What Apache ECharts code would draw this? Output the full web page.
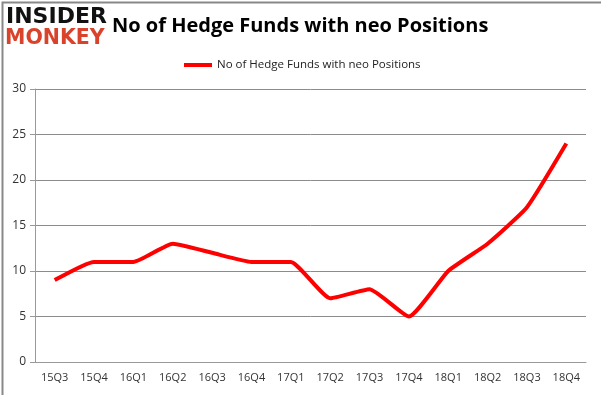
<!DOCTYPE html>
<html><head><meta charset="utf-8">
<script src="https://cdn.jsdelivr.net/npm/echarts@6/dist/echarts.min.js"></script>
<style>html,body{margin:0;padding:0;background:#fff}#c{width:601px;height:395px}</style>
</head><body><div id="c"></div>
<script>
const categories = ['15Q3','15Q4','16Q1','16Q2','16Q3','16Q4','17Q1','17Q2','17Q3','17Q4','18Q1','18Q2','18Q3','18Q4'];
const hedgeFunds = [9,11,11,13,12,11,11,7,8,5,10,13,17,24];
const seriesName = 'No of Hedge Funds with neo Positions';
const titleText = 'No of Hedge Funds with neo Positions';

const chart = echarts.init(document.getElementById('c'), null, {renderer:'canvas'});
chart.setOption({
  animation:false,
  backgroundColor:'#fff',
  title:{text:titleText,left:107,top:11,textStyle:{fontFamily:'Open Sans',fontWeight:'bold',fontSize:20,color:'#000'}},
  legend:{top:54,left:179,itemWidth:28,itemHeight:4,itemGap:4,icon:'rect',
    textStyle:{fontFamily:'Open Sans',fontSize:11.5,color:'#222'},data:[seriesName]},
  grid:{left:35,right:15,top:89,bottom:33},
  xAxis:{type:'category',data:categories,boundaryGap:true,
    axisLine:{lineStyle:{color:'#999'}},
    axisTick:{length:5,lineStyle:{color:'#999'}},
    axisLabel:{margin:10,fontFamily:'Open Sans',fontSize:11,color:'#333'}},
  yAxis:{type:'value',min:0,max:30,interval:5,
    axisLine:{show:true,lineStyle:{color:'#999'}},
    axisTick:{show:true,length:5,lineStyle:{color:'#999'}},
    splitLine:{lineStyle:{color:'#8c8c8c'}},
    axisLabel:{margin:9,fontFamily:'Open Sans',fontSize:12,color:'#333'}},
  series:[{name:seriesName,type:'line',data:hedgeFunds,smooth:0.15,symbol:'none',
    lineStyle:{color:'#ff0000',width:4},itemStyle:{color:'#ff0000'}}],
  graphic:[
    {type:'rect',left:0,top:0,shape:{width:600,height:394},style:{fill:'none',stroke:'#888',lineWidth:2},silent:true},
    {type:'text',left:6,top:6,style:{text:'INSIDER',fontFamily:'DejaVu Sans',fontWeight:'bold',fontSize:22,fill:'#111'}},
    {type:'text',left:5,top:28,style:{text:'MONKEY',fontFamily:'DejaVu Sans',fontWeight:'bold',fontSize:20.5,fill:'#d9432b'}}
  ]
});
</script></body></html>
